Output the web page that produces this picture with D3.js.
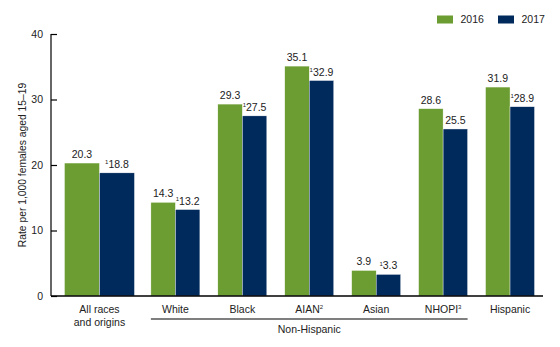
<!DOCTYPE html>
<html>
<head>
<meta charset="utf-8">
<script src="https://cdnjs.cloudflare.com/ajax/libs/d3/7.8.5/d3.min.js"></script>
<style>
  body { margin: 0; background: #fff; }
  svg { font-family: "Liberation Sans", Arial, sans-serif; }
</style>
</head>
<body>
<svg width="560" height="347"></svg>
<script>
// values
const groups = ["All races and origins", "White", "Black", "AIAN", "Asian", "NHOPI", "Hispanic"];
const rates2016 = [20.3, 14.3, 29.3, 35.1, 3.9, 28.6, 31.9];
const rates2017 = [18.8, 13.2, 27.5, 32.9, 3.3, 25.5, 28.9];
const flag2017 = [true, true, true, true, true, false, true];   // footnote 1 marker
const groupLabels = [["All races", "and origins"], ["White"], ["Black"], ["AIAN", "2"], ["Asian"], ["NHOPI", "3"], ["Hispanic"]];
const years = ["2016", "2017"];
const yTicks = [0, 10, 20, 30, 40];

const colors = ["#6c9d32", "#002a5c"];
const textColor = "#222";

const svg = d3.select("svg");
const plotL = 51, plotR = 543, plotT = 34, plotB = 296;

const y = d3.scaleLinear().domain([0, 40]).range([plotB, plotT]);
const x = d3.scaleBand().domain(groups).range([75, 543.5]).padding(0);
const color = d3.scaleOrdinal(years, colors);

// first group is drawn with wider bars, a bit to the left
function barWidth(i) { return i === 0 ? 35 : 24.5; }
function center(g, i) { return x(g) + x.bandwidth() / 2 - (i === 0 ? 9 : 0); }

const data = [];
groups.forEach((g, i) => {
  data.push({ g, i, year: "2016", v: rates2016[i], flag: false, k: -1 });
  data.push({ g, i, year: "2017", v: rates2017[i], flag: flag2017[i], k: 0 });
});

svg.selectAll("rect.bar")
  .data(data)
  .enter()
  .append("rect")
  .attr("class", "bar")
  .attr("x", d => center(d.g, d.i) + d.k * barWidth(d.i))
  .attr("width", d => barWidth(d.i))
  .attr("y", d => y(d.v))
  .attr("height", d => y(0) - y(d.v))
  .attr("fill", d => color(d.year))
  .attr("stroke", "#fff")
  .attr("stroke-width", 0.4);

// value labels
const lab = svg.selectAll("text.val")
  .data(data)
  .enter()
  .append("text")
  .attr("class", "val")
  .attr("x", d => center(d.g, d.i) + (d.k + 0.5) * barWidth(d.i))
  .attr("y", d => y(d.v) - 5)
  .attr("text-anchor", "middle")
  .attr("font-size", 10.5)
  .attr("fill", textColor);
lab.filter(d => d.flag).append("tspan")
  .attr("font-size", 6)
  .attr("dy", -3.5)
  .text("1");
lab.append("tspan")
  .attr("dy", d => d.flag ? 3.5 : 0)
  .text(d => d.v.toFixed(1));

// y axis
const yAxis = d3.axisRight(y).tickValues(yTicks).tickSize(6).tickFormat(d3.format("d"));
const ya = svg.append("g").attr("transform", `translate(${plotL},0)`).call(yAxis);
ya.select(".domain").attr("stroke", "#000").attr("stroke-width", 1.2).attr("d", `M0,${plotT}V${plotB}`);
ya.selectAll(".tick line").attr("stroke", "#000").attr("stroke-width", 1.2);
ya.selectAll(".tick text")
  .attr("x", -8)
  .attr("text-anchor", "end")
  .attr("font-size", 10.5)
  .attr("fill", textColor)
  .attr("font-family", "Liberation Sans, Arial, sans-serif");

// x axis baseline
svg.append("line")
  .attr("x1", plotL).attr("x2", plotR)
  .attr("y1", y(0)).attr("y2", y(0))
  .attr("stroke", "#000").attr("stroke-width", 1.3);

// y axis title
svg.append("text")
  .attr("transform", `translate(26,${(plotT + plotB) / 2}) rotate(-90)`)
  .attr("text-anchor", "middle")
  .attr("font-size", 10.3)
  .attr("fill", textColor)
  .text("Rate per 1,000 females aged 15–19");

// category labels
groups.forEach((g, i) => {
  const lines = groupLabels[i];
  const t = svg.append("text")
    .attr("x", center(g, i))
    .attr("y", 313)
    .attr("text-anchor", "middle")
    .attr("font-size", 10.5)
    .attr("fill", textColor);
  if (i === 0) {
    lines.forEach((l, j) => t.append("tspan").attr("x", center(g, i)).attr("dy", j ? 13 : 0).text(l));
  } else {
    t.append("tspan").text(lines[0]);
    if (lines[1]) t.append("tspan").attr("font-size", 6).attr("dy", -4).text(lines[1]);
  }
});

// Non-Hispanic bracket
const nh0 = center("White", 1) - barWidth(1);
const nh1 = center("NHOPI", 5) + barWidth(5);
svg.append("line")
  .attr("x1", nh0).attr("x2", nh1)
  .attr("y1", 319).attr("y2", 319)
  .attr("stroke", "#000").attr("stroke-width", 1.2);
svg.append("text")
  .attr("x", (nh0 + nh1) / 2)
  .attr("y", 333)
  .attr("text-anchor", "middle")
  .attr("font-size", 10.5)
  .attr("fill", textColor)
  .text("Non-Hispanic");

// legend
const legend = svg.append("g").attr("transform", "translate(437,15)");
years.forEach((yr, i) => {
  const gx = i * 61;
  legend.append("rect").attr("x", gx).attr("y", 0.5).attr("width", 16).attr("height", 8).attr("fill", color(yr));
  legend.append("text").attr("x", gx + 23.5).attr("y", 8)
    .attr("font-size", 10.5).attr("fill", textColor).text(yr);
});
</script>
</body>
</html>
